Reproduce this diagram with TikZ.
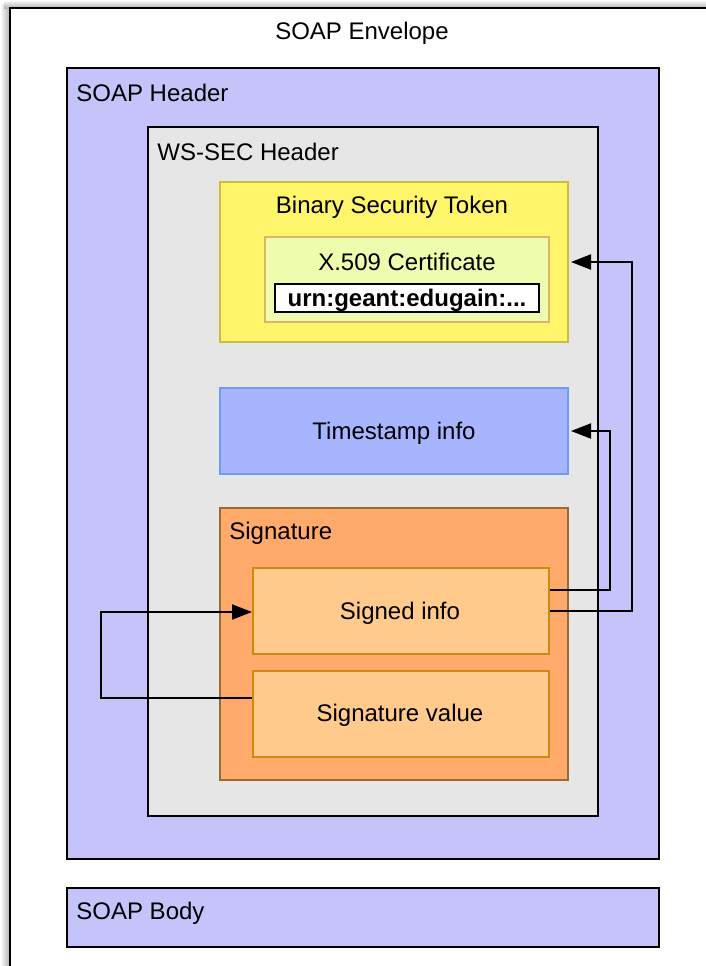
\documentclass[tikz,border=0pt]{standalone}
\usepackage{fontspec}
\setmainfont{Liberation Sans}
\usetikzlibrary{fit,arrows.meta}

\definecolor{hdrfill}{HTML}{C5C3FA}
\definecolor{secfill}{HTML}{E6E6E6}
\definecolor{tokfill}{HTML}{FFF56A}
\definecolor{tokline}{HTML}{CCBE3C}
\definecolor{certfill}{HTML}{EEFCAE}
\definecolor{certline}{HTML}{E0B26A}
\definecolor{tsfill}{HTML}{A7B5FE}
\definecolor{tsline}{HTML}{6B9BFF}
\definecolor{sigfill}{HTML}{FFAA6A}
\definecolor{sigline}{HTML}{9C6A30}
\definecolor{subfill}{HTML}{FFCA8C}
\definecolor{subline}{HTML}{D0890E}

\tikzset{
  frame/.style={inner sep=0pt, draw=black, line width=1pt},
  title/.style={anchor=west, inner sep=0pt, yshift=-1pt, font=\fontsize{12}{14}\selectfont},
  ctitle/.style={inner sep=0pt, yshift=-1pt, font=\fontsize{12}{14}\selectfont},
  link/.style={draw=black, line width=1pt},
  arr/.style={link, -{Triangle[length=10pt,width=7.5pt]}},
}

\begin{document}
\begin{tikzpicture}[x=0.5pt, y=-0.5pt]
\useasboundingbox (0,0) rectangle (706,966);

% soft shadow along the envelope's top and left edges
\shade[left color=white, right color=black!30] (0,4) rectangle (9.5,966);
\shade[top color=white, bottom color=black!30] (4,0) rectangle (720,8);

% envelope
\node[frame, fit={(9.5,8) (716,980)}, fill=white] (env) {};
\node[ctitle] (envt) at (362,31) {SOAP Envelope};

% SOAP header
\node[frame, fit={(67,68) (659,859)}, fill=hdrfill] (hdr) {};
\node[title] (hdrt) at (76,91) {SOAP Header};

% WS-Security header
\node[frame, fit={(148,127) (598,816)}, fill=secfill] (wss) {};
\node[title] (wsst) at (157,150) {WS-SEC Header};

% binary security token
\node[frame, fit={(220,182) (568,342)}, fill=tokfill, draw=tokline] (bst) {};
\node[ctitle] (bstt) at (392,205) {Binary Security Token};

% certificate
\node[frame, fit={(265,237) (549,322)}, fill=certfill, draw=certline] (cert) {};
\node[ctitle] (certt) at (407,260) {X.509 Certificate};
\node[frame, fit={(275,284) (539,312)}, fill=white] (urn) {};
\node[ctitle, font=\fontsize{12}{14}\selectfont\bfseries] (urnt) at (407,298) {urn:geant:edugain:...};

% timestamp
\node[frame, fit={(220,388) (568,474)}, fill=tsfill, draw=tsline] (ts) {};
\node[ctitle] (tst) at (394,431) {Timestamp info};

% signature
\node[frame, fit={(220,508) (568,780)}, fill=sigfill, draw=sigline] (sig) {};
\node[title] (sigt) at (229,531) {Signature};
\node[frame, fit={(253,568) (549,654)}, fill=subfill, draw=subline] (si) {};
\node[ctitle] (sit) at (400,611) {Signed info};
\node[frame, fit={(253,671) (549,757)}, fill=subfill, draw=subline] (sv) {};
\node[ctitle] (svt) at (400,713) {Signature value};

% SOAP body
\node[frame, fit={(67,888) (659,947)}, fill=hdrfill] (body) {};
\node[title] (bodyt) at (76,911) {SOAP Body};

% signature references
\coordinate (c1) at (610,590);
\coordinate (c2) at (632,611);
\coordinate (c3) at (101,698);
\coordinate (t2) at (0,262);
\coordinate (t3) at (0,612);
\draw[arr, shorten >=1pt] (si.east |- c1) -- (c1) |- (ts.east);
\draw[arr, shorten >=1pt] (si.east |- c2) -- (c2) |- (bst.east |- t2);
\draw[arr] (sv.west |- c3) -- (c3) |- (si.west |- t3);
\end{tikzpicture}
\end{document}
